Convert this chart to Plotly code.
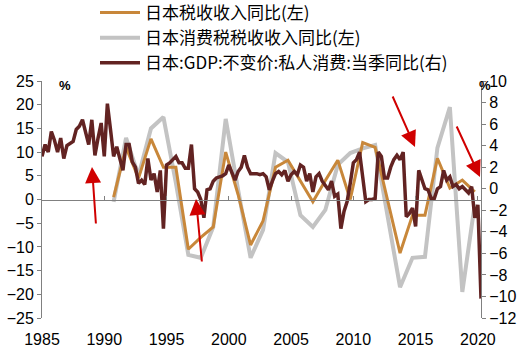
import plotly.graph_objects as go

# ---------------- data ----------------
years_annual = list(range(1990, 2020))
# 日本税收收入同比 (left axis, %)
tax_yoy = [0.5, 11.0, 4.5, 12.8, 6.8, 6.8, -10.5, -8.0, -5.8, 10.0,
           1.0, -9.6, -4.5, 6.8, 8.3, 4.0, -0.5, 4.0, 8.3, 0.0,
           12.0, 11.0, 0.0, -11.3, -3.3, -3.3, 8.7, 2.4, 4.1, 1.6]
# 日本消费税税收收入同比 (left axis, %)
ctax_yoy = [-0.5, 13.0, 5.0, 15.0, 17.4, 3.5, -11.7, -12.3, -5.8, 17.0,
            2.0, -12.3, -6.4, 9.8, 7.9, -3.3, -5.8, -2.2, 7.3, 9.8,
            10.8, 11.5, -3.5, -18.5, -12.3, -12.1, 10.9, 19.5, -19.5, -1.0]

# 日本:GDP:不变价:私人消费:当季同比 (right axis, %), quarterly 1985Q1-2020Q2
q_start_year = 1985
cons_yoy = [
    3.0, 4.1, 3.4, 5.3,     # 1985
    4.5, 3.4, 4.7, 2.8,     # 1986
    4.0, 4.2, 4.4, 5.5,     # 1987
    5.8, 6.4, 5.3, 4.1,     # 1988
    6.4, 3.1, 4.7, 6.1,     # 1989
    3.0, 7.9, 5.5, 3.0,     # 1990
    3.9, 2.8, 1.7, 4.1,     # 1991
    4.1, 2.5, 2.0, 0.5,     # 1992
    0.8, 0.4, 2.8, 0.8,     # 1993
    1.4, -0.3, 1.7, -3.7,   # 1994
    2.2, 2.4, 2.7, 3.0,     # 1995
    2.4, 2.4, 1.9, 1.9,     # 1996
    4.1, 0.0, -0.3, -1.0,   # 1997
    -2.7, -0.1, 0.0, 0.7,   # 1998
    1.0, 1.1, 1.2, 1.4,     # 1999
    2.2, 1.5, 0.8, 1.6,     # 2000
    2.0, 3.1, 2.0, 1.4,     # 2001
    1.4, 1.4, 1.3, 1.4,     # 2002
    1.1, -0.1, 0.7, 1.4,    # 2003
    1.6, 1.3, 1.7, 0.7,     # 2004
    1.3, 1.6, 1.3, 2.2,     # 2005
    2.0, 0.7, 1.4, -0.3,    # 2006
    1.1, 1.4, 0.7, 0.3,     # 2007
    -0.1, 0.7, -0.7, -0.5,  # 2008
    -3.7, -2.1, -1.2, 0.5,  # 2009
    2.4, 2.7, 3.4, 1.1,     # 2010
    -1.2, -1.0, -1.0, -0.9, # 2011
    3.4, 3.0, 1.0, 1.0,     # 2012
    2.0, 2.7, 3.1, 2.7,     # 2013
    3.4, -2.6, -2.3, -1.8,  # 2014
    -3.5, 1.7, 0.8, 0.0,    # 2015
    -0.1, -0.9, -0.9, 0.0,  # 2016
    0.2, 1.7, 0.8, 1.1,     # 2017
    0.2, 0.4, 0.0, 0.2,     # 2018
    -0.1, -0.4, 0.2, -2.7,  # 2019
    -1.5, -10.2,            # 2020
]

x_ticks = [1985, 1990, 1995, 2000, 2005, 2010, 2015, 2020]
left_ticks = [-25, -20, -15, -10, -5, 0, 5, 10, 15, 20, 25]
right_ticks = [-12, -10, -8, -6, -4, -2, 0, 2, 4, 6, 8, 10]

names = ["日本税收收入同比(左)", "日本消费税税收收入同比(左)", "日本:GDP:不变价:私人消费:当季同比(右)"]
colors = ["#C8873A", "#C3C3C3", "#622322"]

# positions (annual values plotted at the fourth quarter, quarterly at quarter starts)
x_annual = [y + 0.75 for y in years_annual]
x_quarter = [q_start_year + i / 4 for i in range(len(cons_yoy))]

fig = go.Figure()
fig.add_trace(go.Scatter(x=x_annual, y=ctax_yoy, name=names[1], mode="lines",
                         line=dict(color=colors[1], width=4), legendrank=2,
                         xaxis="x", yaxis="y"))
fig.add_trace(go.Scatter(x=x_annual, y=tax_yoy, name=names[0], mode="lines",
                         line=dict(color=colors[0], width=3), legendrank=1,
                         xaxis="x", yaxis="y"))
fig.add_trace(go.Scatter(x=x_quarter, y=cons_yoy, name=names[2], mode="lines",
                         line=dict(color=colors[2], width=3.5), legendrank=3,
                         xaxis="x", yaxis="y2"))

W, H = 530, 351
L, R, T, B = 42, 49, 81, 33
pw, ph = W - L - R, H - T - B

def px(x):
    return (x - L) / pw

def py(y):
    return 1 - (y - T) / ph

tick_font = dict(family="Liberation Sans Narrow, Arial Narrow, Liberation Sans, Arial", size=16, color="#000000")
xr = [1985, 2020.25]

fig.update_layout(
    width=W, height=H,
    margin=dict(l=L, r=R, t=T, b=B, autoexpand=False),
    paper_bgcolor="white", plot_bgcolor="white",
    showlegend=True,
    legend=dict(x=px(95), y=py(-5), xanchor="left", yanchor="top",
                font=dict(family="Noto Sans CJK SC", size=17, color="#000000"),
                bgcolor="rgba(0,0,0,0)", tracegroupgap=0, itemwidth=40),
    xaxis=dict(range=xr, tickvals=x_ticks, ticktext=[str(v) for v in x_ticks],
               showline=False, showgrid=False, zeroline=False,
               ticks="outside", ticklen=7, tickcolor="rgba(0,0,0,0)",
               tickfont=tick_font),
    xaxis2=dict(range=xr, overlaying="x", anchor="free", position=0.5,
                tickvals=x_ticks, showticklabels=False, showline=True,
                linecolor="#808080", linewidth=1, ticks="inside", ticklen=4,
                tickcolor="#808080", showgrid=False, zeroline=False),
    yaxis=dict(range=[-25, 25], tickvals=left_ticks, showline=True,
               linecolor="#808080", linewidth=1, ticks="outside", ticklen=4,
               tickcolor="#808080", showgrid=False, zeroline=False,
               tickfont=tick_font),
    yaxis2=dict(range=[-12, 10], tickvals=right_ticks, overlaying="y", side="right",
                showline=True, linecolor="#808080", linewidth=1, ticks="outside",
                ticklen=4, tickcolor="#808080", showgrid=False, zeroline=False,
                tickfont=tick_font),
)

# dummy trace to activate xaxis2
fig.add_trace(go.Scatter(x=[xr[0]], y=[0], xaxis="x2", yaxis="y", mode="markers",
                         marker=dict(opacity=0), showlegend=False, hoverinfo="skip"))

pct_font = dict(family="Liberation Sans, Arial", size=13, color="#000000")
fig.add_annotation(x=px(65), y=py(86), xref="paper", yref="paper", text="<b>%</b>",
                   xanchor="center", yanchor="middle", showarrow=False, font=pct_font)
fig.add_annotation(x=px(485), y=py(85), xref="paper", yref="paper", text="<b>%</b>",
                   xanchor="center", yanchor="middle", showarrow=False, font=pct_font)

arrows = [((92, 167), (96, 225)), ((196, 199), (202, 263)),
          ((415, 147), (392, 95)), ((480, 177), (456, 125))]
for (hx, hy), (tx, ty) in arrows:
    fig.add_annotation(x=px(hx), y=py(hy), xref="paper", yref="paper",
                       ax=tx - hx, ay=ty - hy, text="", showarrow=True,
                       arrowhead=2, arrowsize=1.6, arrowwidth=2, arrowcolor="#D00000",
                       standoff=0)

fig.write_html("out.html")
